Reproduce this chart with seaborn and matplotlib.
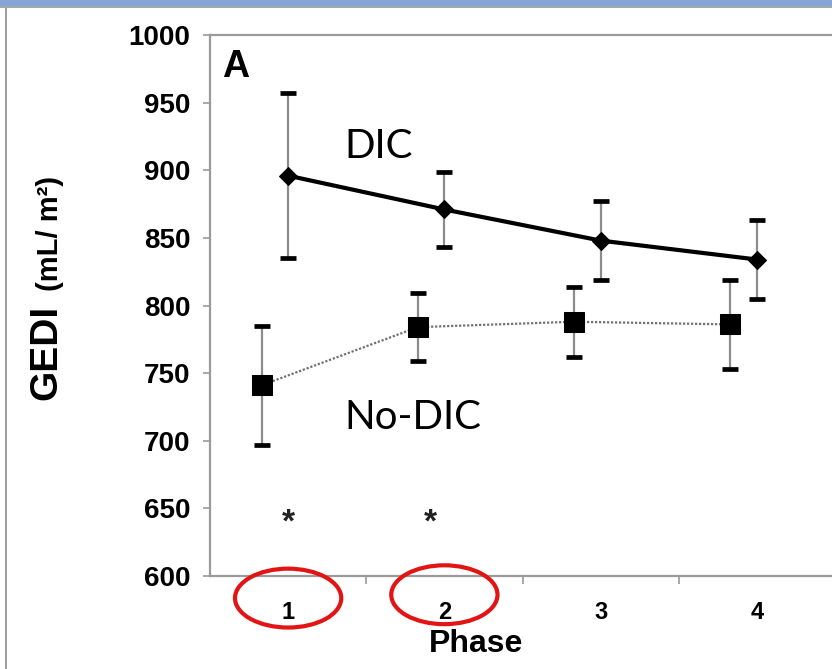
import numpy as np
import pandas as pd
import seaborn as sns
import matplotlib.pyplot as plt
import matplotlib.transforms as mtransforms
from matplotlib.patches import Ellipse, Rectangle


phases = ["1", "2", "3", "4"]
dic_mean = [896, 871, 848, 834]
dic_sd = [61, 28, 29, 29]
nodic_mean = [741, 784, 788, 786]
nodic_sd = [44, 25, 26, 33]
sig_phases = ["1", "2"]
sig_level = 639

df = pd.DataFrame({
    "Phase": phases * 2,
    "group": ["DIC"] * 4 + ["No-DIC"] * 4,
    "GEDI": dic_mean + nodic_mean,
    "sd": dic_sd + nodic_sd,
})
df["pos"] = df["Phase"].map({p: i for i, p in enumerate(phases)}).astype(float)
df.loc[df["group"] == "No-DIC", "pos"] -= 0.17

sns.set_style("white")
plt.rcParams["font.family"] = ["Liberation Sans", "DejaVu Sans"]
plt.rcParams["text.color"] = "black"
plt.rcParams["axes.labelcolor"] = "black"
plt.rcParams["xtick.labelcolor"] = "black"
plt.rcParams["ytick.labelcolor"] = "black"

fig = plt.figure(figsize=(8.32, 6.69), dpi=100)
ax = fig.add_axes([210 / 832, 93 / 669, 625 / 832, 541 / 669])

gray = "#9a9a9a"

# error bars: gray stems, black caps
for grp in ["DIC", "No-DIC"]:
    d = df[df["group"] == grp]
    eb = ax.errorbar(d["pos"], d["GEDI"], yerr=d["sd"], fmt="none",
                     ecolor="#8c8c8c", elinewidth=1.6, capsize=6, capthick=3.4, zorder=2)
    for cap in eb[1]:
        cap.set_color("black")
        cap.set_markeredgecolor("black")

dic = df[df["group"] == "DIC"]
nodic = df[df["group"] == "No-DIC"]
sns.lineplot(data=dic, x="pos", y="GEDI", ax=ax, color="black", lw=3,
             marker="D", markersize=9, markeredgecolor="black", zorder=3)
sns.lineplot(data=nodic, x="pos", y="GEDI", ax=ax, color="#707070", lw=1.6,
             linestyle=(0, (1, 0.8)), marker="s", markersize=14,
             markerfacecolor="black", markeredgecolor="black", zorder=3)

# significance stars
for i, p in enumerate(sig_phases):
    x = phases.index(p) - 0.09 * i
    ax.text(x, sig_level, "*", ha="center", va="center", fontsize=24,
            fontweight="bold", color="#222222")

ax.text(0.357, 909, "DIC", fontsize=29, family=["Lato", "DejaVu Sans"], va="baseline")
ax.text(0.357, 709, "No-DIC", fontsize=29, family=["Lato", "DejaVu Sans"], va="baseline")
ax.text(0.019, 0.922, "A", transform=ax.transAxes, fontsize=27, fontweight="bold",
        va="baseline")

ax.set_xlim(-0.5, 3.5)
ax.set_ylim(600, 1000)
ax.set_yticks(np.arange(600, 1001, 50))
ax.tick_params(axis="y", left=True, length=5, width=1.2, color=gray, pad=9,
               labelsize=20)
for lab in ax.get_yticklabels():
    lab.set_fontweight("bold")

ax.set_xticks(np.arange(len(phases)) + 0.5)
ax.set_xticklabels([])
ax.set_xticks(np.arange(len(phases)), minor=True)
ax.set_xticklabels(phases, minor=True, fontsize=17, fontweight="bold")
ax.tick_params(axis="x", which="major", bottom=True, length=6, width=1.2, color=gray)
ax.tick_params(axis="x", which="minor", bottom=True, length=0, pad=18)

for side in ["left", "bottom", "top"]:
    ax.spines[side].set_color(gray)
    ax.spines[side].set_linewidth(1.6)
ax.spines["right"].set_visible(False)

ax.set_xlabel("Phase", fontsize=23, fontweight="bold")
ax.xaxis.set_label_coords(0.4256, -0.1257)
ax.xaxis.label.set_va("center")
ax.set_ylabel("GEDI", fontsize=28, fontweight="bold")
ax.yaxis.set_label_coords(-0.262, 0.414)
ax.yaxis.label.set_va("center")
ax.text(-0.256, 0.633, "(mL/ m²)", transform=ax.transAxes, rotation=90,
        ha="center", va="center", fontsize=21, fontweight="bold")

# red circles around phases 1 and 2
blend = mtransforms.blended_transform_factory(ax.transData, fig.transFigure)
for p, yc in zip(sig_phases, [0.106, 0.111]):
    fig.add_artist(Ellipse((phases.index(p), yc), 0.68, 0.088, transform=blend,
                           fill=False, edgecolor="#e31414", lw=3, clip_on=False))

# window frame of the screenshot
fig.add_artist(Rectangle((0, 1 - 6 / 669), 1, 6 / 669, transform=fig.transFigure,
                         color="#86a6d6", lw=0))
fig.add_artist(Rectangle((0, 1 - 8 / 669), 1, 2 / 669, transform=fig.transFigure,
                         color="#a8a8a8", lw=0))
fig.add_artist(Rectangle((5 / 832, 0), 2 / 832, 1 - 8 / 669, transform=fig.transFigure,
                         color="#a0a0a0", lw=0))

fig.savefig("out.png", dpi=100)
